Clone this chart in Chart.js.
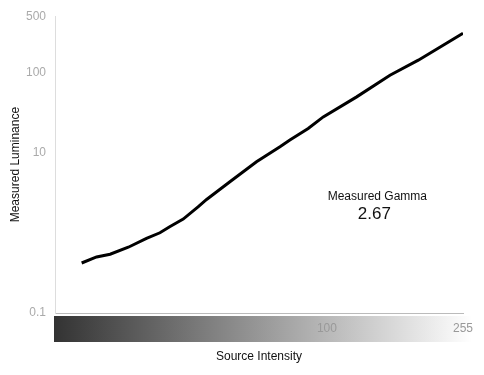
<!DOCTYPE html>
<html>
<head>
<meta charset="utf-8">
<script src="https://cdn.jsdelivr.net/npm/chart.js@4/dist/chart.umd.min.js"></script>
<style>
  html, body { margin: 0; padding: 0; background: #fff; }
  #wrap { width: 484px; height: 375px; }
</style>
</head>
<body>
<div id="wrap"><canvas id="gamma"></canvas></div>
<script>
// source intensity (log axis) and measured luminance
const intensity = [18.5, 20.5, 22.5, 25.5, 28.9, 31.7, 33.9, 37.2, 41.2, 43.7, 51.3, 61.6, 72.4, 77.5, 87.9, 97.5, 122.7, 154.3, 187.5, 255];
const luminance = [0.42, 0.50, 0.54, 0.66, 0.85, 1.0, 1.19, 1.48, 2.1, 2.6, 4.32, 7.66, 11.8, 14.3, 19.9, 27.8, 49.4, 92.0, 141.5, 307];

const xTicks = [100, 255];
const yTicks = [0.1, 10, 100, 500];
const measuredGamma = '2.67';

const FONT = '"Liberation Sans", Arial, sans-serif';

// grey ramp under the x axis + gamma readout
const decor = {
  id: 'decor',
  beforeDraw(chart) {
    const { ctx, chartArea: a } = chart;
    const x0 = a.left - 1, x1 = a.right + 9, y0 = a.bottom + 3, h = 26;
    const g = ctx.createLinearGradient(x0, 0, x1, 0);
    g.addColorStop(0, '#333333');
    g.addColorStop(1, '#ffffff');
    ctx.save();
    ctx.fillStyle = g;
    ctx.fillRect(x0, y0, x1 - x0, h);
    ctx.restore();
  },
  afterDraw(chart) {
    const { ctx, chartArea: a } = chart;
    const cx = a.left + (a.right - a.left) * 0.79;
    ctx.save();
    ctx.fillStyle = '#111';
    ctx.textAlign = 'center';
    ctx.textBaseline = 'middle';
    ctx.font = '12px ' + FONT;
    ctx.fillText('Measured Gamma', cx, 197);
    ctx.font = '17px ' + FONT;
    ctx.fillText(measuredGamma, cx - 3, 214);
    ctx.restore();
  }
};

new Chart(document.getElementById('gamma'), {
  type: 'line',
  data: {
    datasets: [{
      data: intensity.map((v, i) => ({ x: v, y: luminance[i] })),
      borderColor: '#000',
      borderWidth: 3,
      pointRadius: 0,
      tension: 0,
      fill: false
    }]
  },
  options: {
    responsive: true,
    maintainAspectRatio: false,
    animation: false,
    layout: { padding: { top: 16, right: 21, left: 0, bottom: 0 } },
    plugins: { legend: { display: false }, tooltip: { enabled: false } },
    scales: {
      x: {
        type: 'logarithmic',
        min: 15.4,
        max: 255,
        afterBuildTicks: s => { s.ticks = xTicks.map(v => ({ value: v })); },
        afterFit: s => { s.height = 62; },
        grid: { display: false, drawTicks: false },
        border: { display: true, color: '#bbb', width: 1 },
        ticks: {
          padding: 8,
          maxRotation: 0,
          autoSkip: false,
          color: '#999',
          font: { family: FONT, size: 12 },
          callback: v => String(v)
        },
        title: {
          display: true,
          text: 'Source Intensity',
          color: '#111',
          font: { family: FONT, size: 12 },
          padding: { top: 4, bottom: 11 }
        }
      },
      y: {
        type: 'logarithmic',
        min: 0.1,
        max: 500,
        afterBuildTicks: s => { s.ticks = yTicks.map(v => ({ value: v })); },
        afterFit: s => { s.width = 55; },
        grid: { display: false, drawTicks: false },
        border: { display: true, color: '#ddd', width: 1 },
        ticks: {
          padding: 9,
          autoSkip: false,
          color: '#aaa',
          font: { family: FONT, size: 12 },
          callback: v => String(v)
        },
        title: {
          display: true,
          text: 'Measured Luminance',
          color: '#111',
          font: { family: FONT, size: 12 },
          padding: { top: 8, bottom: 4 }
        }
      }
    }
  },
  plugins: [decor]
});
</script>
</body>
</html>
